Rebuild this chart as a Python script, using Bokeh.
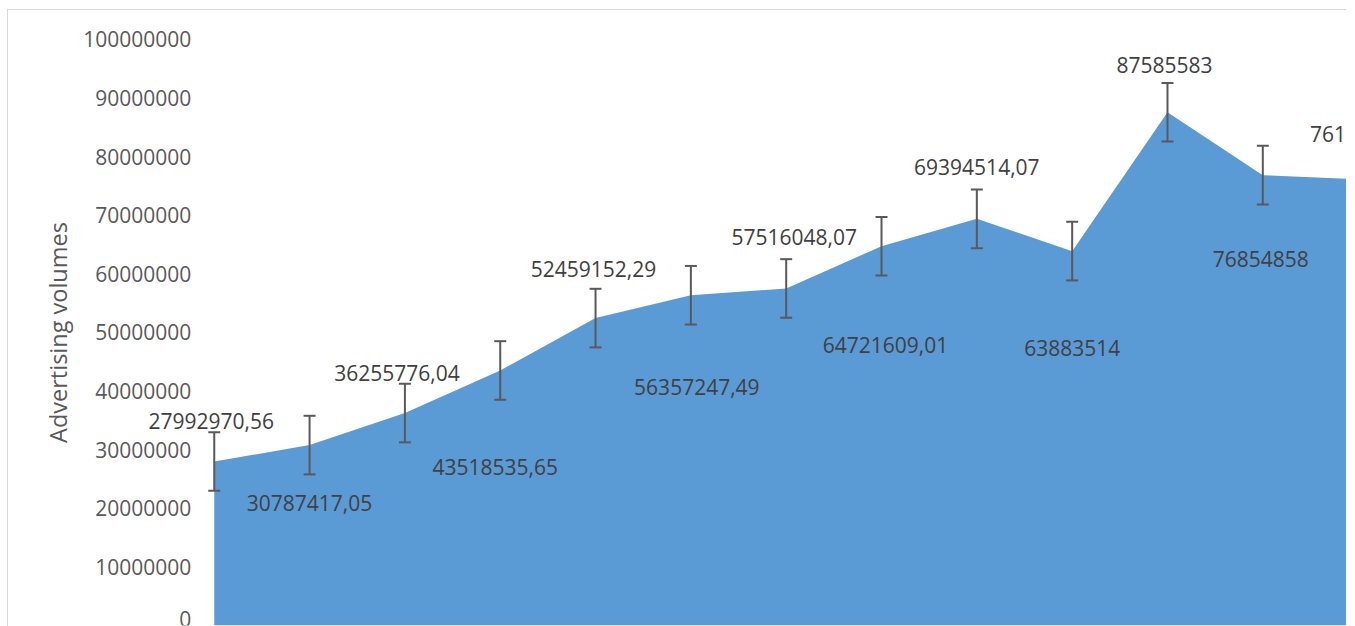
import math
from bokeh.plotting import figure
from bokeh.models import (Range1d, FixedTicker, NumeralTickFormatter, ColumnDataSource,
                          LabelSet, Label)
from bokeh.core.properties import value
from bokeh.embed import file_html
from bokeh.resources import INLINE

# ---- data ----
periods = list(range(13))
volumes = [27992970.56, 30787417.05, 36255776.04, 43518535.65, 52459152.29,
           56357247.49, 57516048.07, 64721609.01, 69394514.07, 63883514,
           87585583, 76854858, 76140000]
labels = ["27992970,56", "30787417,05", "36255776,04", "43518535,65", "52459152,29",
          "56357247,49", "57516048,07", "64721609,01", "69394514,07", "63883514",
          "87585583", "76854858", "76140000"]
error = 5000000
y_ticks = [0, 10000000, 20000000, 30000000, 40000000, 50000000, 60000000,
           70000000, 80000000, 90000000, 100000000]
y_title = "Advertising volumes"

# label placement (pixels, +x right, +y up)
label_dx = [-3, 0, -8, -5, -2, 6, 8, 4, 0, 0, -3, -2, 0]
label_dy = [40, -58, 40, -97, 49, -92, 51, -99, 52, -97, 47, -84, 45]

FONT = "Open Sans"

p = figure(width=1346, height=626,
           x_range=Range1d(-2.2424, 11.878), y_range=Range1d(0, 106655000),
           output_backend="svg", toolbar_location=None,
           x_axis_location=None,
           min_border_left=0, min_border_right=0,
           min_border_top=0, min_border_bottom=1)
p.grid.visible = False
p.outline_line_color = None
p.background_fill_color = None
p.border_fill_color = None
p.styles = {"box-shadow": "inset 7px 9px 0 0 white, inset 8px 10px 0 0 #d9d9d9",
            "background-color": "white"}

p.varea(x=periods, y1=[0] * len(periods), y2=volumes, fill_color="#5B9BD5")

lo = [v - error for v in volumes]
hi = [v + error for v in volumes]
p.segment(x0=periods, y0=lo, x1=periods, y1=hi, line_color="#595959", line_width=2)
p.dash(x=periods, y=lo, size=12, line_color="#595959", line_width=2)
p.dash(x=periods, y=hi, size=12, line_color="#595959", line_width=2)

src = ColumnDataSource(dict(x=periods, y=volumes, text=labels, dx=label_dx, dy=label_dy))
ls = LabelSet(x="x", y="y", text="text", x_offset="dx", y_offset="dy", source=src,
              text_align="center", text_baseline="middle",
              text_font=value(FONT), text_font_size="21px", text_color="#404040")
p.add_layout(ls)

ax = p.yaxis[0]
ax.fixed_location = periods[0]
ax.ticker = FixedTicker(ticks=y_ticks)
ax.formatter = NumeralTickFormatter(format="0")
ax.axis_line_color = None
ax.major_tick_line_color = None
ax.minor_tick_line_color = None
ax.major_tick_out = 0
ax.major_tick_in = 0
ax.major_label_standoff = 23
ax.major_label_text_font = FONT
ax.major_label_text_font_size = "21px"
ax.major_label_text_color = "#595959"

# axis title, centred on the value axis (0 .. 100000000)
title = Label(x=periods[0], y=(y_ticks[0] + y_ticks[-1]) / 2, x_offset=-156,
              text=y_title, angle=math.pi / 2,
              text_align="center", text_baseline="middle",
              text_font=FONT, text_font_size="23.5px", text_color="#595959")
p.add_layout(title)

open("out.html", "w").write(file_html(p, INLINE))
